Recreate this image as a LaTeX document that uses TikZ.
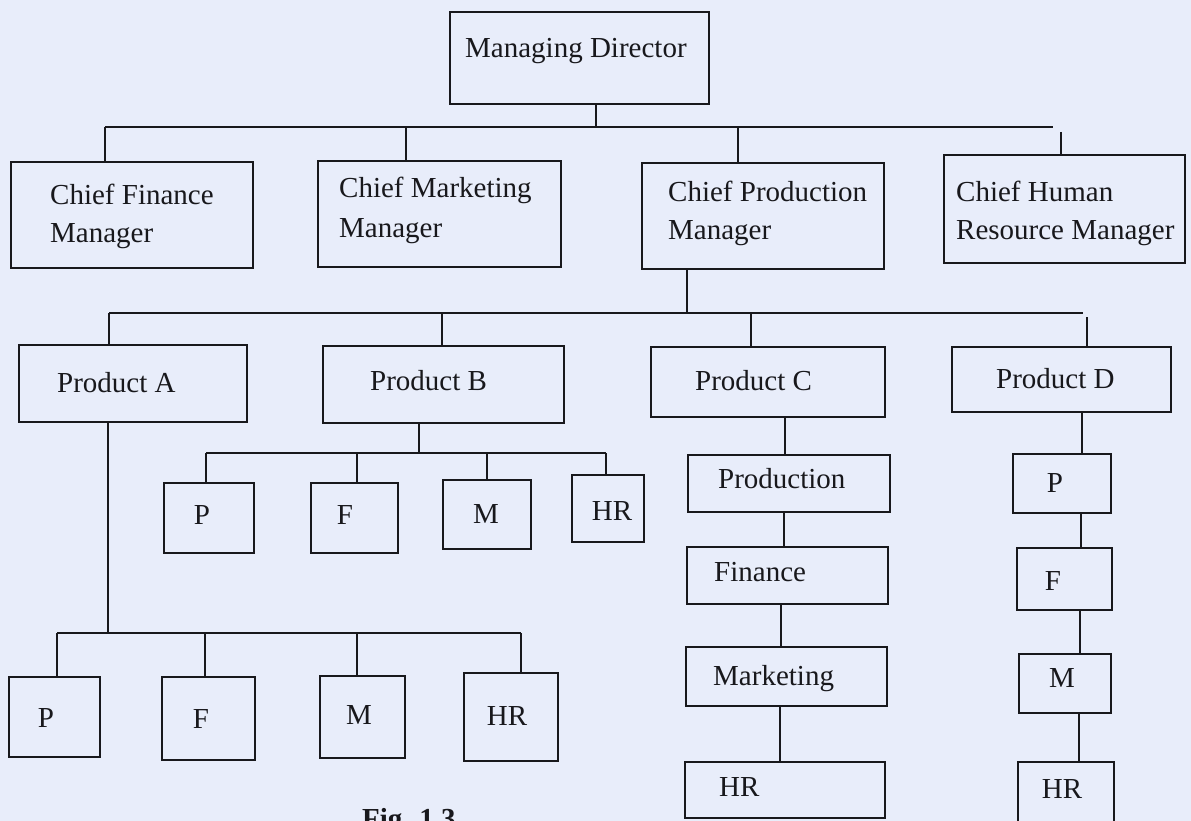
\documentclass[tikz,border=0pt]{standalone}
\usepackage{fontspec}
\setmainfont{Liberation Serif}
\usetikzlibrary{fit}
\definecolor{paper}{HTML}{E8EDFA}
\definecolor{ink}{HTML}{18181C}
% vertical link between two stacked boxes at a given x
\newcommand\chainlink[3]{\path (#3,0) coordinate (lx); \draw[wire] (#1.south -| lx) -- (#2.north -| lx);}
% drop from a bus junction down to the top of a box
\newcommand\droplink[2]{\draw[wire] (#1) -- (#1 |- #2.north);}
\begin{document}
\begin{tikzpicture}[x=1pt,y=-1pt,
  box/.style={draw=ink, line width=2.5pt, inner sep=0pt, rectangle},
  lbl/.style={text=ink, font=\fontsize{29}{34}\selectfont, inner sep=0pt, anchor=base west},
  lblc/.style={lbl, anchor=base},
  wire/.style={draw=ink, line width=2.5pt}]
\fill[paper] (0,0) rectangle (1191,821);
\useasboundingbox (0,0) rectangle (1191,821);
\clip (0,0) rectangle (1191,821);

% ---- top management ----
\node[box, fit={(450,12) (709,104)}] (md) {};
\node[lbl] (mdT) at (465,58) {Managing Director};

\node[box, fit={(11,162) (253,268)}] (cfm) {};
\node[lbl] (cfmT1) at (50,205) {Chief Finance};
\node[lbl] (cfmT2) at (50,243) {Manager};

\node[box, fit={(318,161) (561,267)}] (cmm) {};
\node[lbl] (cmmT1) at (339,198) {Chief Marketing};
\node[lbl] (cmmT2) at (339,237) {Manager};

\node[box, fit={(642,163) (884,269)}] (cpm) {};
\node[lbl] (cpmT1) at (668,202) {Chief Production};
\node[lbl] (cpmT2) at (668,240) {Manager};

\node[box, fit={(944,155) (1185,263)}] (chr) {};
\node[lbl] (chrT1) at (956,202) {Chief Human};
\node[lbl] (chrT2) at (956,240) {Resource Manager};

% ---- product divisions ----
\node[box, fit={(19,345) (247,422)}] (pa) {};
\node[lbl] (paT) at (57,392) {Product A};
\node[box, fit={(323,346) (564,423)}] (pb) {};
\node[lbl] (pbT) at (370,390) {Product B};
\node[box, fit={(651,347) (885,417)}] (pc) {};
\node[lbl] (pcT) at (695,390) {Product C};
\node[box, fit={(952,347) (1171,412)}] (pd) {};
\node[lbl] (pdT) at (996,388) {Product D};

% ---- Product B functions ----
\node[box, fit={(164,483) (254,553)}] (bp) {};
\node[lblc] (bpT) at (202,524) {P};
\node[box, fit={(311,483) (398,553)}] (bf) {};
\node[lblc] (bfT) at (345,524) {F};
\node[box, fit={(443,480) (531,549)}] (bm) {};
\node[lblc] (bmT) at (486,523) {M};
\node[box, fit={(572,475) (644,542)}] (bh) {};
\node[lblc] (bhT) at (612,520) {HR};

% ---- Product A functions ----
\node[box, fit={(9,677) (100,757)}] (ap) {};
\node[lblc] (apT) at (46,727) {P};
\node[box, fit={(162,677) (255,760)}] (af) {};
\node[lblc] (afT) at (201,728) {F};
\node[box, fit={(320,676) (405,758)}] (am) {};
\node[lblc] (amT) at (359,724) {M};
\node[box, fit={(464,673) (558,761)}] (ah) {};
\node[lblc] (ahT) at (507,725) {HR};

% ---- Product C functions ----
\node[box, fit={(688,455) (890,512)}] (cprod) {};
\node[lbl] (cprodT) at (718,488) {Production};
\node[box, fit={(687,547) (888,604)}] (cfin) {};
\node[lbl] (cfinT) at (714,581) {Finance};
\node[box, fit={(686,647) (887,706)}] (cmkt) {};
\node[lbl] (cmktT) at (713,685) {Marketing};
\node[box, fit={(685,762) (885,818)}] (chrb) {};
\node[lbl] (chrbT) at (719,796) {HR};

% ---- Product D functions ----
\node[box, fit={(1013,454) (1111,513)}] (dp) {};
\node[lblc] (dpT) at (1055,492) {P};
\node[box, fit={(1017,548) (1112,610)}] (df) {};
\node[lblc] (dfT) at (1053,590) {F};
\node[box, fit={(1019,654) (1111,713)}] (dm) {};
\node[lblc] (dmT) at (1062,687) {M};
\node[box, fit={(1018,762) (1114,840)}] (dh) {};
\node[lblc] (dhT) at (1062,798) {HR};

\node[lbl, font=\fontsize{29}{34}\selectfont\bfseries] (fig) at (362,828) {Fig. 1.3};

% ---- connectors: managing director to chiefs ----
\coordinate (r0) at (596,127);
\coordinate (r0w) at (105,127);
\coordinate (r0e) at (1053,127);
\coordinate (r0b) at (406,127);
\coordinate (r0c) at (738,127);
\coordinate (r0d) at (1061,132);
\draw[wire] (md.south -| r0) -- (r0);
\draw[wire] (r0w) -- (r0e);
\droplink{r0w}{cfm}
\droplink{r0b}{cmm}
\droplink{r0c}{cpm}
\droplink{r0d}{chr}

% ---- production manager to products ----
\coordinate (r1) at (687,313);
\coordinate (r1w) at (109,313);
\coordinate (r1e) at (1083,313);
\coordinate (r1b) at (442,313);
\coordinate (r1c) at (751,313);
\coordinate (r1d) at (1087,317);
\draw[wire] (cpm.south -| r1) -- (r1);
\draw[wire] (r1w) -- (r1e);
\droplink{r1w}{pa}
\droplink{r1b}{pb}
\droplink{r1c}{pc}
\droplink{r1d}{pd}

% ---- product B to its functions ----
\coordinate (r2) at (419,453);
\coordinate (r2a) at (206,453);
\coordinate (r2b) at (357,453);
\coordinate (r2c) at (487,453);
\coordinate (r2d) at (606,453);
\draw[wire] (pb.south -| r2) -- (r2);
\draw[wire] (r2a) -- (r2d);
\droplink{r2a}{bp}
\droplink{r2b}{bf}
\droplink{r2c}{bm}
\droplink{r2d}{bh}

% ---- product A to its functions ----
\coordinate (r3) at (108,633);
\coordinate (r3a) at (57,633);
\coordinate (r3b) at (205,633);
\coordinate (r3c) at (357,633);
\coordinate (r3d) at (521,633);
\draw[wire] (pa.south -| r3) -- (r3);
\draw[wire] (r3a) -- (r3d);
\droplink{r3a}{ap}
\droplink{r3b}{af}
\droplink{r3c}{am}
\droplink{r3d}{ah}

% ---- product C and D chains ----
\chainlink{pc}{cprod}{785}
\chainlink{cprod}{cfin}{784}
\chainlink{cfin}{cmkt}{781}
\chainlink{cmkt}{chrb}{780}
\chainlink{pd}{dp}{1082}
\chainlink{dp}{df}{1081}
\chainlink{df}{dm}{1080}
\chainlink{dm}{dh}{1079}
\end{tikzpicture}
\end{document}
